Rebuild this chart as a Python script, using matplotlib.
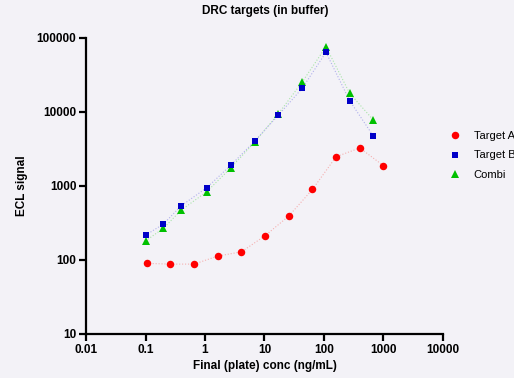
import matplotlib
matplotlib.use("Agg")
import matplotlib.pyplot as plt
from matplotlib.ticker import FixedLocator, FixedFormatter, NullLocator

plt.rcParams['font.family'] = ['Liberation Sans', 'DejaVu Sans']

# concentrations (ng/mL)
conc_a = [0.105, 0.262, 0.655, 1.64, 4.1, 10.24, 25.6, 64, 160, 400, 1000]
conc_bc = [0.1, 0.2, 0.4, 1.07, 2.7, 6.8, 17, 43, 108, 270, 675]

# ECL signal
target_a = [90, 88, 88, 113, 129, 213, 393, 900, 2490, 3265, 1880]
target_b = [216, 306, 542, 948, 1900, 4020, 9020, 20900, 64100, 14200, 4740]
combi = [181, 268, 474, 838, 1750, 3900, 9400, 25400, 76200, 17900, 7800]

x_ticks = [0.01, 0.1, 1, 10, 100, 1000, 10000]
x_labels = ['0.01', '0.1', '1', '10', '100', '1000', '10000']
y_ticks = [10, 100, 1000, 10000, 100000]
y_labels = ['10', '100', '1000', '10000', '100000']

bg = '#F3F2F7'
fs = 8.5
fig = plt.figure(figsize=(5.14, 3.78), dpi=100, facecolor=bg)
ax = fig.add_axes([86 / 514, 1 - 334 / 378, (443 - 86) / 514, (334 - 38) / 378])
ax.set_facecolor(bg)

ax.plot(conc_bc, combi, linestyle=':', color='#a8e4a8', linewidth=0.8)
ax.plot(conc_bc, target_b, linestyle=':', color='#b0b0ec', linewidth=0.8)
ax.plot(conc_a, target_a, linestyle=':', color='#f4b0b0', linewidth=0.8)

ax.plot(conc_bc, combi, '^', color='#00C000', markersize=5.2, markeredgewidth=0,
        linestyle='none', label='Combi')
ax.plot(conc_bc, target_b, 's', color='#0000C8', markersize=5.0, markeredgewidth=0,
        linestyle='none', label='Target B')
ax.plot(conc_a, target_a, 'o', color='#FF0000', markersize=5.4, markeredgewidth=0,
        linestyle='none', label='Target A')

ax.set_xscale('log')
ax.set_yscale('log')
ax.set_xlim(0.01, 10000)
ax.set_ylim(10, 100000)
ax.xaxis.set_major_locator(FixedLocator(x_ticks))
ax.xaxis.set_major_formatter(FixedFormatter(x_labels))
ax.xaxis.set_minor_locator(NullLocator())
ax.yaxis.set_major_locator(FixedLocator(y_ticks))
ax.yaxis.set_major_formatter(FixedFormatter(y_labels))
ax.yaxis.set_minor_locator(NullLocator())

for s in ['top', 'right']:
    ax.spines[s].set_visible(False)
for s in ['left', 'bottom']:
    ax.spines[s].set_linewidth(1.6)
    ax.spines[s].set_color('black')
ax.tick_params(axis='both', direction='out', length=5, width=1.6, labelsize=fs, pad=2)
for lab in ax.get_xticklabels() + ax.get_yticklabels():
    lab.set_fontweight('bold')

ax.set_xlabel('Final (plate) conc (ng/mL)', fontsize=fs, fontweight='bold', labelpad=3)
ax.set_ylabel('ECL signal', fontsize=fs, fontweight='bold', labelpad=6)
fig.text(265 / 514, 1 - 11 / 378, 'DRC targets (in buffer)', ha='center', va='center',
         fontsize=fs, fontweight='bold')

handles, labels = ax.get_legend_handles_labels()
order = [2, 1, 0]
ax.legend([handles[i] for i in order], [labels[i] for i in order],
          loc='upper left', bbox_to_anchor=(437 / 514, 1 - 121 / 378),
          bbox_transform=fig.transFigure, frameon=False, fontsize=8,
          handletextpad=0.9, labelspacing=0.85, handlelength=1.5)

fig.savefig('out.png', dpi=100, facecolor=bg)
